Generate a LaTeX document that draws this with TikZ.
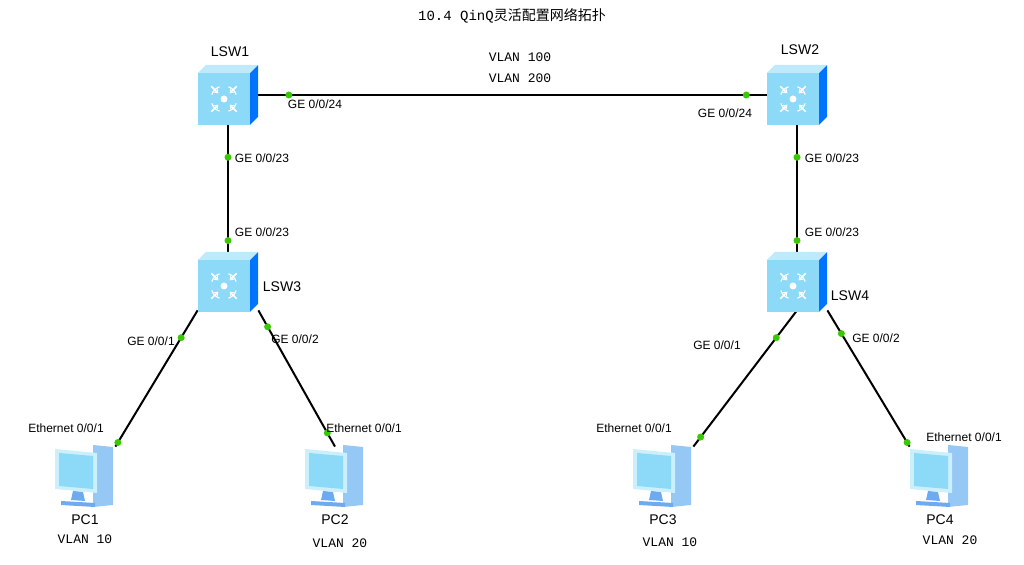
\documentclass[tikz,border=0pt]{standalone}
\usepackage{fontspec}
\setmainfont{Liberation Sans}
\setmonofont{Liberation Mono}
\newfontfamily\cjk{Noto Sans CJK SC}
\usetikzlibrary{positioning,calc,arrows.meta}
\definecolor{pcside}{RGB}{150,200,245}
\definecolor{pcbase}{RGB}{110,170,240}
\tikzset{
  link/.style={line width=1pt, black},
  port/.style={circle, fill=green!70!black!70!lime, inner sep=0pt, minimum size=3.5pt},
  lbl/.style={font=\fontsize{6}{7}\selectfont, inner sep=1pt},
  vlan/.style={font=\ttfamily\fontsize{6.5}{8}\selectfont, inner sep=1pt},
  dev/.style={inner sep=0pt, minimum width=30pt, minimum height=28pt},
}
% switch icon centred on a node
\newcommand\swicon[1]{
  \begin{scope}[shift={(#1)}]
    \fill[blue!55!cyan] (22,-22) -- (30,-30) -- (30,22) -- (22,30) -- cycle;
    \fill[cyan!25] (-30,-22) -- (-22,-30) -- (30,-30) -- (22,-22) -- cycle;
    \fill[cyan!45!white] (-30,-22) rectangle (22,30);
    \fill[white] (-4,4) circle (3.5);
    \foreach \a in {45,135,225,315}
      \draw[white, line width=0.8pt, -{Stealth[length=2pt,width=3pt]}] ($(-4,4)+(\a:18)$) -- ($(-4,4)+(\a:8)$);
    \foreach \a in {0,90,180,270}
      \draw[white, line width=0.6pt] ($(-4,4)+(\a+20:13)$) arc (\a+20:\a+70:13);
  \end{scope}
}
% pc icon centred on a node
\newcommand\pcicon[1]{
  \begin{scope}[shift={(#1)}]
    \fill[pcside] (8,-30) -- (28,-28) -- (28,30) -- (8,32) -- cycle;
    \fill[cyan!20] (-30,-26) -- (12,-22) -- (12,18) -- (-30,14) -- cycle;
    \fill[cyan!45] (-26,-22) -- (8,-19) -- (8,14) -- (-26,11) -- cycle;
    \fill[pcbase] (-12,16) -- (-2,17) -- (0,26) -- (-14,25) -- cycle;
    \fill[pcbase] (-24,26) -- (10,28) -- (10,32) -- (-24,30) -- cycle;
  \end{scope}
}
\begin{document}
\begin{tikzpicture}[x=0.5pt, y=-0.5pt]
  \useasboundingbox (0,0) rectangle (1024,565);
  \node[font=\ttfamily\fontsize{7}{8}\selectfont] (title) at (512,16) {10.4 QinQ{\cjk 灵活配置网络拓扑}};

  % Devices
  \node[dev] (lsw1) at (228,95) {};
  \node[dev] (lsw2) at (797,95) {};
  \node[dev] (lsw3) at (228,282) {};
  \node[dev] (lsw4) at (797,282) {};
  \node[dev] (pc1) at (85,475) {};
  \node[dev] (pc2) at (335,475) {};
  \node[dev] (pc3) at (663,475) {};
  \node[dev] (pc4) at (940,475) {};

  % Links
  \draw[link] (lsw1.east) -- node[port, pos=0.06] {} node[port, pos=0.96] {} (lsw2.west);
  \draw[link] (lsw1.south) -- node[port, pos=0.26] {} node[port, pos=0.9] {} (lsw3.north);
  \draw[link] (lsw2.south) -- node[port, pos=0.26] {} node[port, pos=0.9] {} (lsw4.north);
  \draw[link] (lsw3.south west) -- node[port, pos=0.2] {} node[port, pos=0.97] {} (pc1.north east);
  \draw[link] (lsw3.south east) -- node[port, pos=0.12] {} node[port, pos=0.9] {} (pc2.north);
  \draw[link] (lsw4.south) -- node[port, pos=0.2] {} node[port, pos=0.93] {} (pc3.north east);
  \draw[link] (lsw4.south east) -- node[port, pos=0.17] {} node[port, pos=0.97] {} (pc4.north west);

  \swicon{lsw1} \swicon{lsw2} \swicon{lsw3} \swicon{lsw4}
  \pcicon{pc1} \pcicon{pc2} \pcicon{pc3} \pcicon{pc4}

  % Device labels
  \node[lbl, font=\fontsize{7}{8}\selectfont] at (230,52) {LSW1};
  \node[lbl, font=\fontsize{7}{8}\selectfont] at (800,50) {LSW2};
  \node[lbl, font=\fontsize{7}{8}\selectfont] at (282,287) {LSW3};
  \node[lbl, font=\fontsize{7}{8}\selectfont] at (850,296) {LSW4};
  \node[lbl, font=\fontsize{7}{8}\selectfont] at (85,520) {PC1};
  \node[lbl, font=\fontsize{7}{8}\selectfont] at (335,520) {PC2};
  \node[lbl, font=\fontsize{7}{8}\selectfont] at (663,520) {PC3};
  \node[lbl, font=\fontsize{7}{8}\selectfont] at (940,520) {PC4};
  \node[vlan] at (85,539) {VLAN 10};
  \node[vlan] at (340,543) {VLAN 20};
  \node[vlan] at (670,542) {VLAN 10};
  \node[vlan] at (950,540) {VLAN 20};
  \node[vlan] at (520,57) {VLAN 100};
  \node[vlan] at (520,78) {VLAN 200};

  % Port labels
  \node[lbl] at (315,104) {GE 0/0/24};
  \node[lbl] at (725,113) {GE 0/0/24};
  \node[lbl] at (262,158) {GE 0/0/23};
  \node[lbl] at (262,232) {GE 0/0/23};
  \node[lbl] at (832,158) {GE 0/0/23};
  \node[lbl] at (832,232) {GE 0/0/23};
  \node[lbl] at (151,341) {GE 0/0/1};
  \node[lbl] at (295,339) {GE 0/0/2};
  \node[lbl] at (717,345) {GE 0/0/1};
  \node[lbl] at (876,338) {GE 0/0/2};
  \node[lbl] at (66,428) {Ethernet 0/0/1};
  \node[lbl] at (364,428) {Ethernet 0/0/1};
  \node[lbl] at (634,428) {Ethernet 0/0/1};
  \node[lbl] at (964,437) {Ethernet 0/0/1};
\end{tikzpicture}
\end{document}
